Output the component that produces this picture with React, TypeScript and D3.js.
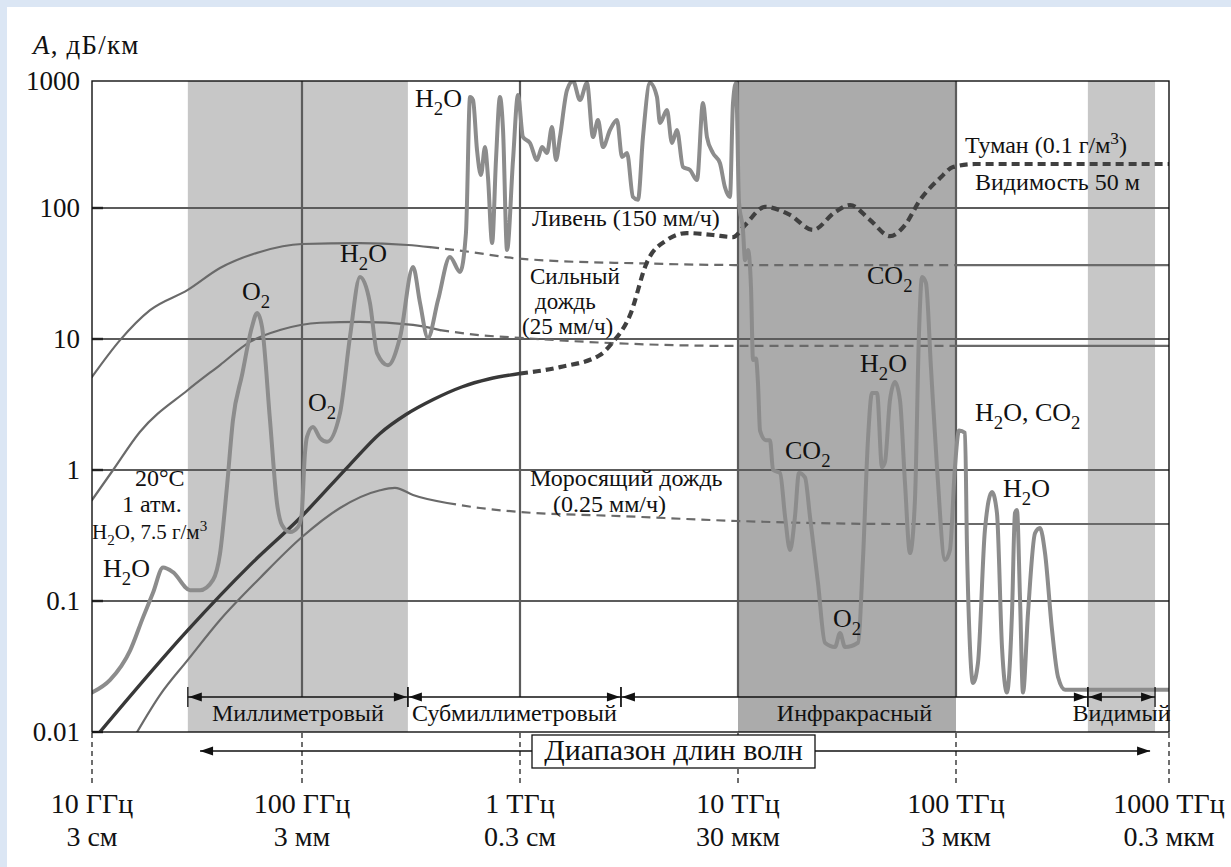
import React from "react";
import * as d3 from "d3";

type Pt = [number, number];

const W = 1231;
const H = 867;

// axes (frequency in GHz, attenuation in dB/km)
const FREQ_TICKS = [10, 100, 1000, 10000, 100000, 1000000];
const FREQ_LABELS = ["10 ГГц", "100 ГГц", "1 ТГц", "10 ТГц", "100 ТГц", "1000 ТГц"];
const WAVE_LABELS = ["3 см", "3 мм", "0.3 см", "30 мкм", "3 мкм", "0.3 мкм"];
const ATT_TICKS = [0.01, 0.1, 1, 10, 100, 1000];
const ATT_LABELS = ["0.01", "0.1", "1", "10", "100", "1000"];

// pixel positions of the decades (the scan is not perfectly uniform)
const X_RANGE = [92, 302, 520, 738, 956, 1169];
const Y_RANGE = [732, 601, 470, 339, 208, 81];

// clear air, 20°C, 1 atm, H2O 7.5 g/m3
const CLEAR_AIR: Pt[] = [
  [10, 0.02], [12.2, 0.025], [15.2, 0.042], [17.5, 0.075], [19.5, 0.115], [21.8, 0.18],
  [24.3, 0.166], [29.3, 0.121], [32.7, 0.121], [37.7, 0.145], [40.7, 0.23], [43.9, 0.74],
  [46.9, 2.4], [51.8, 5.3], [57.8, 12.4], [61.1, 15.8], [64.5, 12.4], [70.4, 2.4],
  [76, 0.56], [80.3, 0.38], [87.7, 0.336], [95.7, 0.367], [99.5, 0.45], [103.2, 1.35],
  [105.4, 1.79], [112.3, 2.13], [121, 1.75], [130.2, 1.64], [149.4, 2.72], [166, 10.4],
  [184.5, 29.7], [205, 18.8], [221, 7.8], [248, 6.3], [282, 10.4], [323, 35.5],
  [348, 18.8], [378, 10.2], [421, 19.9], [477, 42.3], [531, 32.5], [565, 64.4],
  [590, 748], [609, 708], [635, 286], [662, 182], [691, 302], [713, 175], [745, 54],
  [776, 239], [809, 748], [836, 411], [872, 47.8], [929, 239], [979, 776], [1032, 362],
  [1111, 325], [1197, 239], [1262, 302], [1330, 271], [1402, 434], [1463, 239],
  [1525, 362], [1643, 849], [1750, 1000], [1885, 708], [2028, 964], [2162, 362],
  [2279, 493], [2403, 302], [2587, 411], [2786, 493], [2938, 252], [3097, 271],
  [3298, 122], [3477, 116], [3665, 362], [3947, 964], [4249, 748], [4385, 467],
  [4722, 591], [4977, 325], [5248, 411], [5594, 210], [6023, 199], [6485, 166],
  [6907, 671], [7205, 362], [7674, 271], [8260, 226], [8710, 146], [9185, 122],
  [9485, 671], [9791, 964], [10110, 110], [10540, 68], [10770, 40], [11110, 47.8],
  [11470, 25], [11720, 6.9], [12090, 7.1], [12350, 4.6], [12620, 2.0], [13430, 1.69],
  [14020, 1.69], [14480, 1.0], [15590, 0.95], [16440, 0.44], [17320, 0.245], [18250, 0.44],
  [19040, 0.95], [20290, 0.88], [21390, 0.44], [23280, 0.137], [25060, 0.048],
  [27860, 0.0445], [29380, 0.057], [30970, 0.0445], [35500, 0.048], [37420, 0.206],
  [39450, 1.69], [41190, 3.87], [43420, 3.87], [45770, 1.05], [47230, 1.15], [49780, 3.42],
  [52480, 4.7], [55330, 3.42], [58330, 0.8], [61490, 0.232], [64820, 0.59], [67640, 11.1],
  [69820, 29.7], [72800, 26.8], [76740, 6.1], [81800, 1.05], [89100, 0.206], [93800, 0.245],
  [98900, 1.05], [103300, 2.0], [110200, 1.92], [112600, 0.258], [116300, 0.0445],
  [120200, 0.0237], [126800, 0.0336], [136700, 0.348], [147600, 0.68], [155700, 0.47],
  [164400, 0.0445], [173500, 0.02], [183200, 0.081], [189200, 0.47], [193300, 0.495],
  [199700, 0.107], [206300, 0.02], [217800, 0.081], [235000, 0.33], [247900, 0.36],
  [261800, 0.232], [282400, 0.06], [301300, 0.0263], [325100, 0.021], [1000000, 0.021],
];

// downpour 150 mm/h
const SHOWER_SOLID: Pt[] = [
  [10, 5.13], [13.6, 9.8], [18.9, 16.6], [28.6, 23.7], [40.7, 34.8], [63.1, 46.2],
  [100, 53.1], [184.5, 54], [306, 52.2], [387, 50.3],
];
const SHOWER_DASH: Pt[] = [
  [387, 50.3], [590, 46.2], [929, 41.5], [1525, 39.3], [3298, 37.9], [10000, 36.7], [100000, 36.7],
];
const SHOWER_TAIL: Pt[] = [[100000, 36.7], [1000000, 36.7]];

// heavy rain 25 mm/h
const HEAVY_SOLID: Pt[] = [
  [10, 0.59], [12.6, 1.0], [16.9, 1.95], [28.6, 4.08], [40.7, 6.33], [56.5, 9.5],
  [78.5, 11.7], [121, 13.3], [184.5, 13.5], [323, 12.8], [430, 11.7],
];
const HEAVY_DASH: Pt[] = [
  [430, 11.7], [655, 10.7], [1000, 10.2], [2670, 9.3], [10000, 8.85], [100000, 8.85],
];
const HEAVY_TAIL: Pt[] = [[100000, 8.85], [1000000, 8.85]];

// drizzle 0.25 mm/h
const DRIZZLE_SOLID: Pt[] = [
  [16.4, 0.01], [21.1, 0.0192], [28.6, 0.0355], [40.7, 0.0716], [63.1, 0.15], [100, 0.308],
  [149.4, 0.513], [228, 0.7], [267, 0.73], [323, 0.645], [463, 0.56],
];
const DRIZZLE_DASH: Pt[] = [
  [463, 0.56], [655, 0.513], [1000, 0.478], [2875, 0.445], [10000, 0.408], [55330, 0.387], [100000, 0.387],
];
const DRIZZLE_TAIL: Pt[] = [[100000, 0.387], [1000000, 0.387]];

// fog 0.1 g/m3, visibility 50 m
const FOG_SOLID: Pt[] = [
  [10.9, 0.01], [28.6, 0.06], [56.5, 0.188], [97.8, 0.43], [166, 1.1], [228, 1.9],
  [300, 2.65], [400, 3.45], [540, 4.3], [720, 4.95], [1000, 5.45],
];
const FOG_DASH: Pt[] = [
  [1000, 5.45], [1525, 6.1], [2328, 7.55], [2642, 9.3], [3196, 15.2], [3826, 38.7],
  [4722, 57], [5834, 64.4], [7674, 62.2], [9485, 60], [10770, 74], [13300, 102],
  [17320, 88.5], [22080, 68], [27860, 93], [32650, 105.6], [40330, 81], [49780, 61],
  [58330, 74], [68390, 115.6], [84500, 172], [96900, 210], [122800, 222], [1000000, 222],
];

// shaded bands and spectral ranges (GHz)
const LIGHT_BANDS: Pt[] = [[28.6, 306], [416000, 860000]];
const DARK_BANDS: Pt[] = [[10000, 100000]];
const RANGE_NAMES = ["Миллиметровый", "Субмиллиметровый", "Инфракрасный", "Видимый"];
const RANGE_EDGES: Pt[] = [[28.6, 306], [306, 2905], [2905, 416000], [416000, 860000]];
const WAVE_ARROW: Pt = [32.7, 815000];

// annotations: text, x, baseline, size (_x subscript, ^x superscript)
const NOTES: [string, number, number, number][] = [
  ["H_2O", 415, 107, 26],
  ["Ливень (150 мм/ч)", 532, 226, 24],
  ["Туман (0.1 г/м^3)", 965, 153, 24],
  ["Видимость 50 м", 975, 190, 24],
  ["H_2O", 340, 262, 26],
  ["O_2", 242, 300, 26],
  ["Сильный", 530, 284, 23],
  ["дождь", 535, 309, 23],
  ["(25 мм/ч)", 522, 334, 23],
  ["CO_2", 867, 284, 26],
  ["O_2", 308, 411, 26],
  ["H_2O", 860, 372, 26],
  ["H_2O, CO_2", 975, 421, 26],
  ["CO_2", 785, 459, 26],
  ["20°C", 135, 486, 24],
  ["1 атм.", 122, 512, 24],
  ["H_2O, 7.5 г/м^3", 92, 539, 21],
  ["Моросящий дождь", 530, 486, 24],
  ["(0.25 мм/ч)", 553, 512, 24],
  ["H_2O", 1003, 497, 26],
  ["H_2O", 103, 577, 26],
  ["O_2", 833, 627, 26],
];

const FONT = "Liberation Serif, Times New Roman, serif";
const INK = "#111";
const GRID = "#5c5c5c";
const RAIN = "#6a6a6a";

function parseRich(s: string) {
  const parts: { t: string; k: string }[] = [];
  let buf = "";
  for (let i = 0; i < s.length; i++) {
    const c = s[i];
    if (c === "_" || c === "^") {
      if (buf) parts.push({ t: buf, k: "n" });
      buf = "";
      parts.push({ t: s[i + 1], k: c === "_" ? "sub" : "sup" });
      i++;
    } else buf += c;
  }
  if (buf) parts.push({ t: buf, k: "n" });
  return parts;
}

function Rich({ text, x, y, size }: { text: string; x: number; y: number; size: number }) {
  const parts = parseRich(text);
  let shift = 0;
  return (
    <text x={x} y={y} fontSize={size} fontFamily={FONT} fill={INK}>
      {parts.map((p, i) => {
        const target = p.k === "sub" ? size * 0.3 : p.k === "sup" ? -size * 0.38 : 0;
        const dy = target - shift;
        shift = target;
        return (
          <tspan key={i} dy={dy} fontSize={p.k === "n" ? size : size * 0.72}>
            {p.t}
          </tspan>
        );
      })}
    </text>
  );
}

function head(tip: number, yc: number, dir: number) {
  return `M${tip},${yc}L${tip - dir * 13},${yc - 4.5}L${tip - dir * 13},${yc + 4.5}Z`;
}

export default function App() {
  const x = d3.scaleLog().domain(FREQ_TICKS).range(X_RANGE);
  const y = d3.scaleLog().domain(ATT_TICKS).range(Y_RANGE);
  const line = d3
    .line<Pt>()
    .x((d) => x(d[0]))
    .y((d) => y(d[1]))
    .curve(d3.curveMonotoneX);

  const left = x(FREQ_TICKS[0]);
  const right = x(FREQ_TICKS[FREQ_TICKS.length - 1]);
  const top = y(1000);
  const bottom = y(0.01);
  const rangeY = 697;
  const waveY = 751;
  const box = { x0: 532, x1: 815, y0: 735, y1: 768 };

  return (
    <div style={{ position: "absolute", left: 0, top: 0 }}>
      <svg width={W} height={H} viewBox={`0 0 ${W} ${H}`} style={{ display: "block" }}>
        <defs>
          <clipPath id="plot">
            <rect x={left} y={top} width={right - left} height={bottom - top} />
          </clipPath>
        </defs>
        <rect width={W} height={H} fill="#dbe6f4" />
        <rect x={7} y={7} width={W - 7} height={H - 7} fill="#fff" />

        {LIGHT_BANDS.map((b, i) => (
          <rect key={`lb${i}`} x={x(b[0])} y={top} width={x(b[1]) - x(b[0])} height={bottom - top} fill="#c7c7c7" />
        ))}
        {DARK_BANDS.map((b, i) => (
          <rect key={`db${i}`} x={x(b[0])} y={top} width={x(b[1]) - x(b[0])} height={bottom - top} fill="#ababab" />
        ))}

        {ATT_TICKS.slice(1, -1).map((t) => (
          <line key={`h${t}`} x1={left} x2={right} y1={y(t)} y2={y(t)} stroke={GRID} strokeWidth={2.2} />
        ))}
        {FREQ_TICKS.slice(1, -1).map((t) => (
          <line key={`v${t}`} x1={x(t)} x2={x(t)} y1={top} y2={rangeY} stroke={GRID} strokeWidth={2.2} />
        ))}
        {ATT_TICKS.slice(0, -1).map((t) => (
          <line key={`yt${t}`} x1={left} x2={left + 11} y1={y(t)} y2={y(t)} stroke="#222" strokeWidth={2.4} />
        ))}

        <g clipPath="url(#plot)" fill="none" strokeLinejoin="round" strokeLinecap="round">
          {[SHOWER_SOLID, HEAVY_SOLID, DRIZZLE_SOLID, SHOWER_TAIL, HEAVY_TAIL, DRIZZLE_TAIL].map((s, i) => (
            <path key={`rs${i}`} d={line(s) || ""} stroke={RAIN} strokeWidth={2.2} />
          ))}
          {[SHOWER_DASH, HEAVY_DASH, DRIZZLE_DASH].map((s, i) => (
            <path key={`rd${i}`} d={line(s) || ""} stroke={RAIN} strokeWidth={2.2} strokeDasharray="9 6" strokeLinecap="butt" />
          ))}
          <path d={line(FOG_SOLID) || ""} stroke="#383838" strokeWidth={3.4} />
          <path d={line(FOG_DASH) || ""} stroke="#404040" strokeWidth={4.2} strokeDasharray="8 5" strokeLinecap="butt" />
          <path d={line(CLEAR_AIR) || ""} stroke="#8c8c8c" strokeWidth={4} />
        </g>

        <rect x={left} y={top} width={right - left} height={bottom - top} fill="none" stroke={INK} strokeWidth={1.4} />

        {/* spectral ranges */}
        {RANGE_EDGES.map((r, i) => {
          const x0 = x(r[0]);
          const x1 = x(r[1]);
          return (
            <g key={`r${i}`}>
              <line x1={x0} x2={x1} y1={rangeY} y2={rangeY} stroke={INK} strokeWidth={1.3} />
              <line x1={x0} x2={x0} y1={rangeY - 10} y2={rangeY + 10} stroke={INK} strokeWidth={1.3} />
              <line x1={x1} x2={x1} y1={rangeY - 10} y2={rangeY + 10} stroke={INK} strokeWidth={1.3} />
              <path d={head(x0 + 1, rangeY, -1)} fill={INK} />
              <path d={head(x1 - 1, rangeY, 1)} fill={INK} />
              <text x={(x0 + x1) / 2} y={rangeY + 24} fontSize={24} fontFamily={FONT} textAnchor="middle" fill={INK}>
                {RANGE_NAMES[i]}
              </text>
            </g>
          );
        })}

        {/* decade ticks under the axis */}
        {FREQ_TICKS.map((t, i) => (
          <g key={`f${t}`}>
            <line x1={x(t)} x2={x(t)} y1={bottom + 1} y2={783} stroke="#222" strokeWidth={1.3} strokeDasharray="5 4" />
            <text x={x(t)} y={813} fontSize={28} fontFamily={FONT} textAnchor="middle" fill={INK}>
              {FREQ_LABELS[i]}
            </text>
            <text x={x(t)} y={846} fontSize={28} fontFamily={FONT} textAnchor="middle" fill={INK}>
              {WAVE_LABELS[i]}
            </text>
          </g>
        ))}

        {/* wavelength range arrow */}
        <line x1={x(WAVE_ARROW[0])} x2={box.x0} y1={waveY} y2={waveY} stroke={INK} strokeWidth={1.3} />
        <line x1={box.x1} x2={x(WAVE_ARROW[1])} y1={waveY} y2={waveY} stroke={INK} strokeWidth={1.3} />
        <path d={head(x(WAVE_ARROW[0]), waveY, -1)} fill={INK} />
        <path d={head(x(WAVE_ARROW[1]), waveY, 1)} fill={INK} />
        <rect x={box.x0} y={box.y0} width={box.x1 - box.x0} height={box.y1 - box.y0} fill="#fff" stroke={INK} strokeWidth={1.3} />
        <text x={(box.x0 + box.x1) / 2} y={box.y1 - 8} fontSize={30} fontFamily={FONT} textAnchor="middle" fill={INK}>
          Диапазон длин волн
        </text>

        {/* y axis */}
        {ATT_TICKS.map((t, i) => (
          <text key={`yl${t}`} x={80} y={y(t) + 9} fontSize={27} fontFamily={FONT} textAnchor="end" fill={INK}>
            {ATT_LABELS[i]}
          </text>
        ))}
        <text x={33} y={54} fontSize={27} fontFamily={FONT} letterSpacing={1.2} fill={INK}>
          <tspan fontStyle="italic">A</tspan>
          <tspan>, дБ/км</tspan>
        </text>

        {NOTES.map(([t, nx, ny, s], i) => (
          <Rich key={`n${i}`} text={t} x={nx} y={ny} size={s} />
        ))}
      </svg>
    </div>
  );
}
